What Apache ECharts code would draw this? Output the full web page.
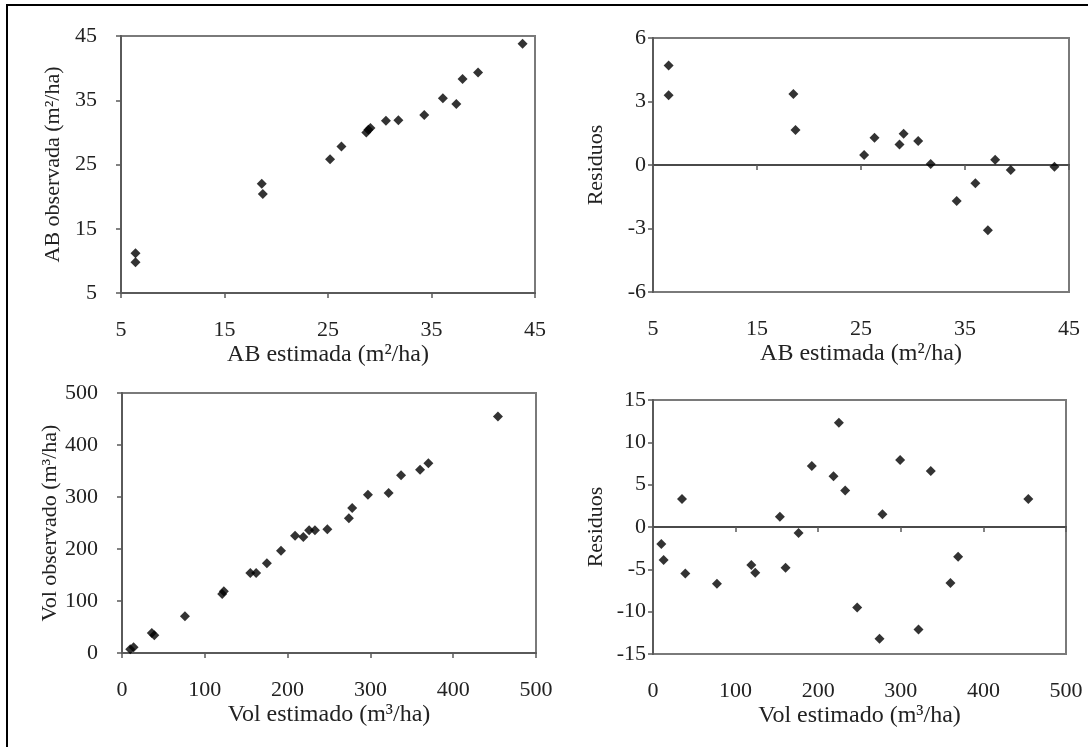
<!DOCTYPE html>
<html>
<head>
<meta charset="utf-8">
<script src="https://cdn.jsdelivr.net/npm/echarts@6/dist/echarts.min.js"></script>
<style>
html,body{margin:0;padding:0;background:#fff;}
#c{width:1088px;height:747px;}
</style>
</head>
<body>
<div id="c"></div>
<script>
// Panel 1: AB observada vs AB estimada
const abEst = [6.4, 6.4, 18.6, 18.7, 25.2, 26.3, 28.7, 28.9, 29.1, 30.6, 31.8, 34.3, 36.1, 37.4, 38.0, 39.5, 43.8];
const abObs = [11.2, 9.8, 22.0, 20.4, 25.8, 27.8, 30.0, 30.4, 30.7, 31.8, 31.9, 32.7, 35.3, 34.4, 38.3, 39.3, 43.8];
// Panel 2: AB residuals
const abEstR = [6.5, 6.5, 18.5, 18.7, 25.3, 26.3, 28.7, 29.1, 30.5, 31.7, 34.2, 36.0, 37.2, 37.9, 39.4, 43.6];
const abRes = [4.7, 3.3, 3.35, 1.65, 0.47, 1.29, 0.97, 1.48, 1.13, 0.05, -1.7, -0.86, -3.08, 0.25, -0.24, -0.08];
// Panel 3: Vol observado vs Vol estimado
const volEst = [10, 14, 36, 39, 76, 121, 123, 155, 162, 175, 192, 209, 219, 226, 233, 248, 274, 278, 297, 322, 337, 360, 370, 454];
const volObs = [7, 11, 38.5, 34, 70.5, 113.5, 118.6, 153.8, 153.8, 172.4, 196.8, 225.6, 223, 236, 236, 237.8, 259, 279, 304.5, 307.7, 341.7, 352.6, 364.7, 455];
// Panel 4: Vol residuals
const volEstR = [10.1, 12.9, 35.1, 39.1, 77.4, 119, 123.8, 153.6, 160.5, 176.2, 192.3, 218.5, 225, 232.7, 247.2, 274.2, 277.8, 299.2, 321.4, 336.3, 360.1, 369.4, 454.4];
const volRes = [-2.0, -3.9, 3.3, -5.5, -6.7, -4.5, -5.4, 1.2, -4.8, -0.7, 7.2, 6.0, 12.3, 4.3, -9.5, -13.2, 1.5, 7.9, -12.1, 6.6, -6.6, -3.5, 3.3];

// Tick labels
const abTicks = [5, 15, 25, 35, 45];
const abResTicks = [-6, -3, 0, 3, 6];
const volTicks = [0, 100, 200, 300, 400, 500];
const volResTicks = [-15, -10, -5, 0, 5, 10, 15];

const FONT = 'Liberation Serif';
const TXT = '#222';
const AXC = '#5a5a5a';

function zip(a, b) { return a.map((v, i) => [v, b[i]]); }
function rng(t) { return { min: t[0], max: t[t.length - 1], interval: t[1] - t[0] }; }

function valAxis(ticks, gridIndex, opts) {
  const r = rng(ticks);
  return Object.assign({
    type: 'value', gridIndex: gridIndex, min: r.min, max: r.max, interval: r.interval,
    splitLine: { show: false },
    axisLine: { show: true, onZero: false, lineStyle: { color: AXC, width: 2 } },
    axisTick: { show: true, inside: false, length: 5, lineStyle: { color: AXC, width: 1.5 } },
    axisLabel: { fontFamily: FONT, fontSize: 22, color: TXT, margin: 26 },
    nameLocation: 'middle',
    nameTextStyle: { fontFamily: FONT, fontSize: 22, color: TXT }
  }, opts || {});
}

const xName = { fontFamily: FONT, fontSize: 24, color: TXT };

const grids = [
  { left: 121, top: 36, width: 414, height: 257 },
  { left: 653, top: 38, width: 416, height: 254 },
  { left: 122, top: 393, width: 414, height: 260 },
  { left: 653, top: 400, width: 413, height: 254 }
].map(g => Object.assign(g, { show: true, borderColor: '#7a7a7a', borderWidth: 2, backgroundColor: 'transparent' }));

const xAxes = [
  valAxis(abTicks, 0, { name: 'AB estimada (m²/ha)', nameGap: 50, nameTextStyle: xName }),
  valAxis(abTicks, 1, { name: 'AB estimada (m²/ha)', nameGap: 50, nameTextStyle: xName, axisLine: { show: false, onZero: false }, axisTick: { show: false } }),
  valAxis(volTicks, 2, { name: 'Vol estimado (m³/ha)', nameGap: 50, nameTextStyle: xName }),
  valAxis(volTicks, 3, { name: 'Vol estimado (m³/ha)', nameGap: 50, nameTextStyle: xName, axisLine: { show: false, onZero: false }, axisTick: { show: false } }),
  // zero lines for residual panels
  valAxis(abTicks, 1, { position: 'bottom', axisLabel: { show: false }, axisLine: { show: true, onZero: true, lineStyle: { color: '#4a4a4a', width: 2 } } }),
  valAxis(volTicks, 3, { position: 'bottom', axisLabel: { show: false }, axisLine: { show: true, onZero: true, lineStyle: { color: '#4a4a4a', width: 2 } } })
];

const yAxes = [
  valAxis(abTicks, 0, { name: 'AB observada (m²/ha)', nameGap: 57, axisLabel: { fontFamily: FONT, fontSize: 22, color: TXT, margin: 24 } }),
  valAxis(abResTicks, 1, { name: 'Residuos', nameGap: 46, axisLabel: { fontFamily: FONT, fontSize: 22, color: TXT, margin: 7 } }),
  valAxis(volTicks, 2, { name: 'Vol observado (m³/ha)', nameGap: 57, axisLabel: { fontFamily: FONT, fontSize: 22, color: TXT, margin: 24 } }),
  valAxis(volResTicks, 3, { name: 'Residuos', nameGap: 46, axisLabel: { fontFamily: FONT, fontSize: 22, color: TXT, margin: 7 } })
];

function sc(xi, yi, data) {
  return { type: 'scatter', xAxisIndex: xi, yAxisIndex: yi, data: data, symbol: 'diamond', symbolSize: 10,
    itemStyle: { color: '#000' }, silent: true, animation: false };
}

const chart = echarts.init(document.getElementById('c'), null, { renderer: 'canvas' });
chart.setOption({
  animation: false,
  backgroundColor: '#fff',
  grid: grids,
  xAxis: xAxes,
  yAxis: yAxes,
  series: [
    sc(0, 0, zip(abEst, abObs)),
    sc(1, 1, zip(abEstR, abRes)),
    sc(2, 2, zip(volEst, volObs)),
    sc(3, 3, zip(volEstR, volRes))
  ],
  graphic: [
    { type: 'rect', shape: { x: 7, y: 5, width: 1100, height: 760 }, style: { fill: null, stroke: '#000', lineWidth: 2 }, silent: true }
  ]
});
</script>
</body>
</html>
